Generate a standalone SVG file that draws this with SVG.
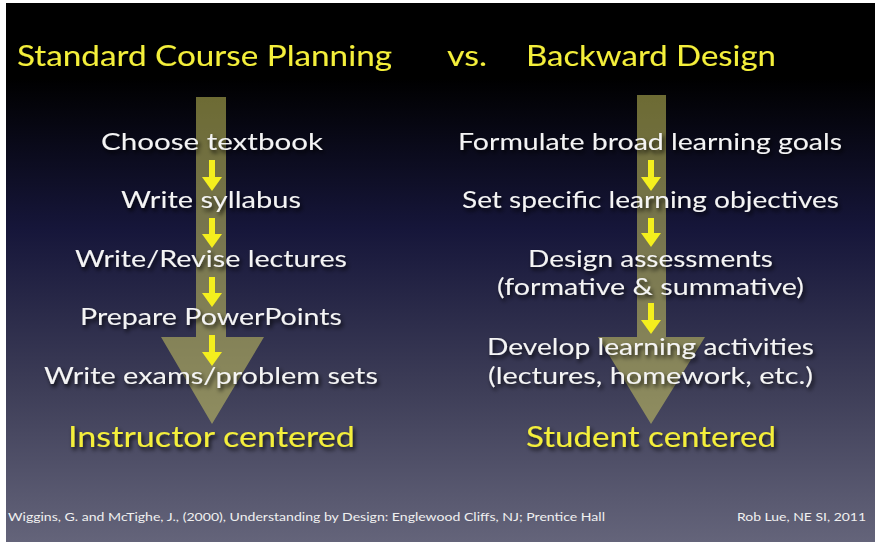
<svg xmlns="http://www.w3.org/2000/svg" width="875" height="542" viewBox="0 0 875 542">
<defs>
<linearGradient id="bg" x1="0" y1="0" x2="0" y2="1">
<stop offset="0" stop-color="#000000"/>
<stop offset="0.14" stop-color="#000000"/>
<stop offset="0.42" stop-color="#16163a"/>
<stop offset="0.72" stop-color="#3e3e58"/>
<stop offset="1" stop-color="#64647a"/>
</linearGradient>
<filter id="sh" x="-10%" y="-20%" width="120%" height="160%">
<feDropShadow dx="2" dy="3" stdDeviation="2" flood-color="#000" flood-opacity="0.8"/>
</filter>
<marker id="ya" viewBox="0 0 20 14" refX="10" refY="1" markerWidth="20" markerHeight="14" markerUnits="userSpaceOnUse" orient="0">
<path d="M0,0 L20,0 L10,14 Z" fill="#f4ef1e"/>
</marker>
</defs>
<style>
.h{font-family:"Lato","Open Sans",sans-serif;font-size:28px;fill:#f4ef3a;filter:url(#sh)}
.t{font-family:"Lato","Open Sans",sans-serif;font-size:23px;fill:#f4f4f4;filter:url(#sh)}
.f{font-family:"Lato","Open Sans",sans-serif;font-size:11px;fill:#f0f0f0}
.big{fill:#d8d462;fill-opacity:0.5}
.c{stroke:#f4ef1e;stroke-width:6;fill:none;marker-end:url(#ya)}
</style>
<rect width="875" height="542" fill="#ffffff"/>
<rect x="6" y="3" width="869" height="539" fill="url(#bg)"/>

<g id="big-arrows">
<path class="big" d="M196,97 L226,97 L226,337 L264,337 L212,424 L161,337 L196,337 Z"/>
<path class="big" d="M637,95 L666,95 L666,337 L705,337 L651,424 L598,337 L637,337 Z"/>
</g>

<g id="headings">
<text class="h" x="17" y="66" textLength="375" lengthAdjust="spacingAndGlyphs">Standard Course Planning</text>
<text class="h" x="447" y="66" textLength="40" lengthAdjust="spacingAndGlyphs">vs.</text>
<text class="h" x="526" y="66" textLength="250" lengthAdjust="spacingAndGlyphs">Backward Design</text>
</g>

<g id="connectors">
<line class="c" x1="212" y1="160" x2="212" y2="178"/>
<line class="c" x1="212" y1="218" x2="212" y2="235"/>
<line class="c" x1="212" y1="277" x2="212" y2="294"/>
<line class="c" x1="212" y1="335" x2="212" y2="353"/>
<line class="c" x1="651" y1="160" x2="651" y2="178"/>
<line class="c" x1="651" y1="218" x2="651" y2="234"/>
<line class="c" x1="651" y1="303" x2="651" y2="321"/>
</g>

<g id="n-choose"><text class="t" x="101" y="150" textLength="222" lengthAdjust="spacingAndGlyphs">Choose textbook</text></g>
<g id="n-syllabus"><text class="t" x="121" y="208" textLength="180" lengthAdjust="spacingAndGlyphs">Write syllabus</text></g>
<g id="n-lectures"><text class="t" x="75" y="267" textLength="272" lengthAdjust="spacingAndGlyphs">Write/Revise lectures</text></g>
<g id="n-powerpoints"><text class="t" x="80" y="325" textLength="262" lengthAdjust="spacingAndGlyphs">Prepare PowerPoints</text></g>
<g id="n-exams"><text class="t" x="44" y="384" textLength="334" lengthAdjust="spacingAndGlyphs">Write exams/problem sets</text></g>

<g id="n-goals"><text class="t" x="458" y="150" textLength="384" lengthAdjust="spacingAndGlyphs">Formulate broad learning goals</text></g>
<g id="n-objectives"><text class="t" x="462" y="208" textLength="377" lengthAdjust="spacingAndGlyphs">Set specific learning objectives</text></g>
<g id="n-assessments">
<text class="t" x="528" y="267" textLength="245" lengthAdjust="spacingAndGlyphs">Design assessments</text>
<text class="t" x="497" y="295" textLength="307" lengthAdjust="spacingAndGlyphs">(formative &amp; summative)</text>
</g>
<g id="n-activities">
<text class="t" x="487" y="355" textLength="327" lengthAdjust="spacingAndGlyphs">Develop learning activities</text>
<text class="t" x="488" y="384" textLength="325" lengthAdjust="spacingAndGlyphs">(lectures, homework, etc.)</text>
</g>

<g id="outcomes">
<text class="h" x="68" y="447" textLength="287" lengthAdjust="spacingAndGlyphs">Instructor centered</text>
<text class="h" x="526" y="447" textLength="250" lengthAdjust="spacingAndGlyphs">Student centered</text>
</g>

<g id="footer">
<text class="f" x="8" y="521" textLength="597" lengthAdjust="spacingAndGlyphs">Wiggins, G. and McTighe, J., (2000), Understanding by Design: Englewood Cliffs, NJ; Prentice Hall</text>
<text class="f" x="737" y="521" textLength="129" lengthAdjust="spacingAndGlyphs">Rob Lue, NE SI, 2011</text>
</g>
</svg>
